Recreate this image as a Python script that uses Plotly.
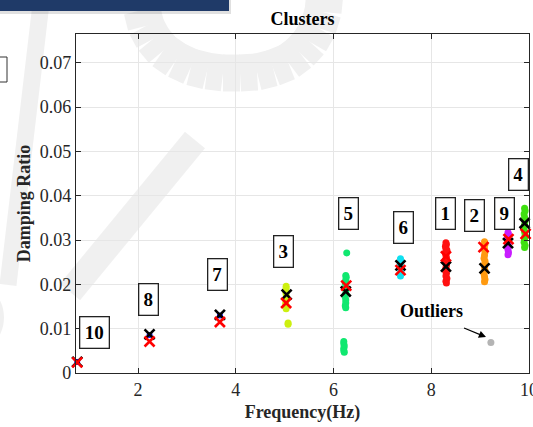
import plotly.graph_objects as go

FONT = "Liberation Serif"

# ---- data ----
c1_x = [8.30, 8.31, 8.29, 8.30, 8.32, 8.29, 8.30, 8.31, 8.29, 8.30, 8.31, 8.30, 8.29, 8.31, 8.30, 8.32, 8.30, 8.31]
c1_y = [0.0294, 0.0290, 0.0286, 0.0281, 0.0277, 0.0272, 0.0266, 0.0260, 0.0255, 0.0249, 0.0243, 0.0237, 0.0231, 0.0225, 0.0219, 0.0213, 0.0207, 0.0203]
c2_x = [9.09, 9.10, 9.08, 9.09, 9.10, 9.09, 9.08, 9.10, 9.09, 9.09, 9.10, 9.08, 9.09, 9.10, 9.09]
c2_y = [0.0296, 0.0291, 0.0285, 0.0279, 0.0273, 0.0266, 0.0259, 0.0252, 0.0245, 0.0238, 0.0231, 0.0224, 0.0217, 0.0211, 0.0206]
c9_x = [9.57, 9.58, 9.56, 9.57, 9.58, 9.57, 9.56, 9.57, 9.58, 9.57]
c9_y = [0.0317, 0.0313, 0.0308, 0.0302, 0.0296, 0.0290, 0.0284, 0.0278, 0.0272, 0.0267]
c4_x = [9.91, 9.92, 9.90, 9.91, 9.92, 9.91, 9.90, 9.91, 9.92, 9.91, 9.90, 9.92, 9.91]
c4_y = [0.0372, 0.0366, 0.0359, 0.0351, 0.0343, 0.0335, 0.0327, 0.0319, 0.0311, 0.0303, 0.0295, 0.0288, 0.0283]
c6_x = [7.37, 7.38, 7.37, 7.36, 7.37, 7.38, 7.37, 7.37]
c6_y = [0.0258, 0.0253, 0.0247, 0.0241, 0.0235, 0.0229, 0.0223, 0.0219]
c5_x = [6.27, 6.25, 6.26, 6.25, 6.24, 6.25, 6.26, 6.25, 6.24, 6.25, 6.25, 6.24, 6.25, 6.21, 6.21, 6.22, 6.21, 6.21, 6.22]
c5_y = [0.0271, 0.0220, 0.0216, 0.0210, 0.0203, 0.0196, 0.0188, 0.0180, 0.0172, 0.0165, 0.0158, 0.0152, 0.0147, 0.0071, 0.0066, 0.0061, 0.0056, 0.0051, 0.0047]
c3_x = [5.03, 5.03, 5.02, 5.03, 5.04, 5.03, 5.02, 5.03, 5.03, 5.07, 5.07]
c3_y = [0.0196, 0.0191, 0.0185, 0.0178, 0.0171, 0.0164, 0.0157, 0.0150, 0.0145, 0.0113, 0.0110]
blue_x = [0.755, 2.235, 3.675]
blue_y = [0.0025, 0.0086, 0.0130]
outlier_x = [9.22]
outlier_y = [0.0069]

black_x = [0.755, 2.235, 3.675, 5.04, 6.25, 7.37, 8.30, 9.09, 9.57, 9.91]
black_y = [0.0025, 0.0087, 0.0131, 0.0177, 0.0184, 0.0243, 0.0240, 0.0236, 0.0293, 0.0338]
red_x = [0.755, 2.235, 3.675, 5.03, 6.26, 7.37, 8.30, 9.07, 9.58, 9.93]
red_y = [0.0024, 0.0071, 0.0115, 0.0158, 0.0197, 0.0232, 0.0263, 0.0284, 0.0302, 0.0314]

label_text = ["10", "8", "7", "3", "5", "6", "1", "2", "9", "4"]
label_x = [1.10, 2.21, 3.62, 4.97, 6.30, 7.43, 8.30, 8.89, 9.49, 9.79]
label_y = [0.0091, 0.0165, 0.0223, 0.0274, 0.0359, 0.0328, 0.0361, 0.0355, 0.0359, 0.0447]

y_ticks = [0, 0.01, 0.02, 0.03, 0.04, 0.05, 0.06, 0.07]
y_ticktext = ["0", "0.01", "0.02", "0.03", "0.04", "0.05", "0.06", "0.07"]
x_ticks = [2, 4, 6, 8, 10]

# ---- figure ----
fig = go.Figure()

def pts(x, y, color, size=7):
    fig.add_trace(go.Scatter(x=x, y=y, mode="markers", cliponaxis=False,
                             marker=dict(symbol="circle", size=size, color=color,
                                         line=dict(width=0)),
                             showlegend=False, hoverinfo="skip"))

pts(c1_x, c1_y, "#ff1010")
pts(c2_x, c2_y, "#ff9a10")
pts(c9_x, c9_y, "#c81cff")
pts(c4_x, c4_y, "#3fe010")
pts(c6_x, c6_y, "#10e0f0")
pts(c5_x, c5_y, "#10e870")
pts(c3_x, c3_y, "#cdf010")
pts(blue_x, blue_y, "#1010ff", 6)
pts(outlier_x, outlier_y, "#b4b4b4")

for xs, ys, col in ((black_x, black_y, "black"), (red_x, red_y, "#ff0000")):
    fig.add_trace(go.Scatter(x=xs, y=ys, mode="markers", cliponaxis=False,
                             marker=dict(symbol="x-thin-open", size=10, color=col,
                                         line=dict(width=2.6, color=col)),
                             showlegend=False, hoverinfo="skip"))

annotations = []
for t, x, y in zip(label_text, label_x, label_y):
    annotations.append(dict(x=x, y=y, xref="x", yref="y", text="<b>%s</b>" % t,
                            showarrow=False, font=dict(family=FONT, size=19, color="black"),
                            width=10 * len(t), height=22,
                            bgcolor="white", bordercolor="#222222", borderwidth=1.3,
                            borderpad=4))
annotations.append(dict(x=8.01, y=0.0141, xref="x", yref="y", text="<b>Outliers</b>",
                        showarrow=False, font=dict(family=FONT, size=18, color="black")))
annotations.append(dict(x=9.12, y=0.0081, ax=8.64, ay=0.0103, xref="x", yref="y",
                        axref="x", ayref="y", text="", showarrow=True, arrowhead=2,
                        arrowsize=1.2, arrowwidth=1.2, arrowcolor="black"))

# pixel -> paper helpers for decorations
L, R, T, B = 76, 529, 34, 373
def px(x):
    return (x - L) / (R - L)
def py(y):
    return (B - y) / (B - T)

wm = "rgba(0,0,0,0.06)"
# watermark arc (hand-picked pixel points of its centre line)
arc_pts = [(141, -8), (142, 10), (146, 26), (153, 39), (163, 51), (176, 60), (191, 67),
           (207, 71), (223, 73), (240, 73), (257, 72), (273, 68), (288, 62), (300, 53),
           (310, 42), (318, 28), (323, 12), (325, -8)]

shapes = []
for (a0, b0), (a1, b1) in zip(arc_pts[:-1], arc_pts[1:]):
    shapes.append(dict(type="line", xref="paper", yref="paper", layer="below",
                       x0=px(a0), y0=py(b0), x1=px(a1), y1=py(b1),
                       line=dict(color="#f0f0f0", width=37)))
shapes += [
    dict(type="line", xref="paper", yref="paper", layer="below",
         x0=px(42), y0=py(-5), x1=px(8), y1=py(285), line=dict(color=wm, width=17)),
    dict(type="line", xref="paper", yref="paper", layer="below",
         x0=px(195), y0=py(140), x1=px(70), y1=py(292), line=dict(color=wm, width=26)),
    dict(type="circle", xref="paper", yref="paper", layer="below",
         x0=px(-20), y0=py(295), x1=px(4), y1=py(340), fillcolor=wm, line=dict(width=0)),
    # top banner
    dict(type="rect", xref="paper", yref="paper", layer="above",
         x0=px(-2), y0=py(-2), x1=px(231), y1=py(14), fillcolor="rgba(0,0,0,0.12)",
         line=dict(width=0)),
    dict(type="rect", xref="paper", yref="paper", layer="above",
         x0=px(-2), y0=py(-2), x1=px(229), y1=py(11), fillcolor="#1f3a68",
         line=dict(width=0)),
    # partial box at left
    dict(type="rect", xref="paper", yref="paper", layer="above",
         x0=px(-10), y0=py(57), x1=px(7), y1=py(82), fillcolor="white",
         line=dict(color="#333333", width=1)),
]

fig.update_layout(
    width=533, height=427, autosize=False,
    margin=dict(l=L, r=533 - R, t=T, b=427 - B, pad=0, autoexpand=False),
    paper_bgcolor="white", plot_bgcolor="rgba(0,0,0,0)",
    font=dict(family=FONT, color="#262626"),
    title=dict(text="<b>Clusters</b>", x=0.5, xref="paper", xanchor="center",
               y=1 - 19 / 427, yref="container", yanchor="middle",
               font=dict(family=FONT, size=18, color="black")),
    xaxis=dict(range=[0.73, 10], tickvals=x_ticks, ticks="inside", ticklen=5,
               tickcolor="#262626", showline=True, linecolor="#262626", linewidth=1.2,
               mirror="allticks", showgrid=True, gridcolor="#e6e6e6", gridwidth=1,
               zeroline=False, ticklabeloverflow="allow", automargin=False,
               tickfont=dict(family=FONT, size=18, color="#262626"),
               title=dict(text="<b>Frequency(Hz)</b>", standoff=6,
                          font=dict(family=FONT, size=18, color="#262626"))),
    yaxis=dict(range=[0, 0.0765], tickvals=y_ticks, ticktext=y_ticktext, ticks="inside",
               ticklen=5, tickcolor="#262626", showline=True, linecolor="#262626",
               linewidth=1.2, mirror="allticks", showgrid=True, gridcolor="#e6e6e6",
               gridwidth=1, zeroline=False, automargin=False,
               tickfont=dict(family=FONT, size=18, color="#262626"),
               title=dict(text="<b>Damping Ratio</b>", standoff=4,
                          font=dict(family=FONT, size=18, color="#262626"))),
    annotations=annotations,
    shapes=shapes,
)

fig.write_html("out.html")
